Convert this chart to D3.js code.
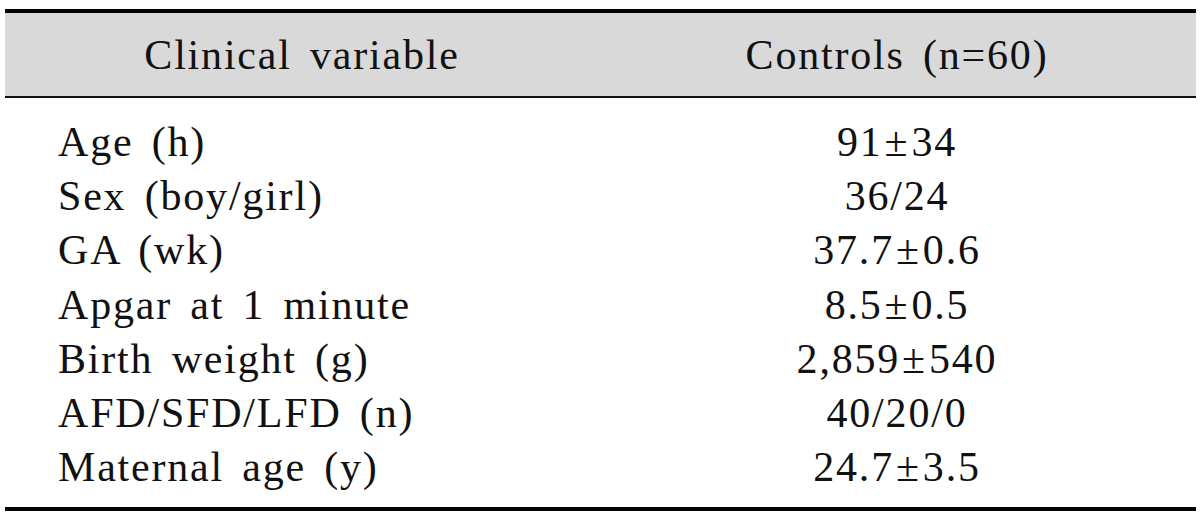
<!DOCTYPE html>
<html>
<head>
  <title></title>
  <script src="https://cdn.jsdelivr.net/npm/d3@7"></script>
  <style type="text/css">
    body {
      margin: 0;
      background-color: white;
    }

    .cell {
      font-family: "Liberation Serif", "DejaVu Serif", serif;
      font-size: 42px;
      fill: #111;
      letter-spacing: 1.8px;
      word-spacing: 6px;
    }

    .head-bg {
      fill: #d9d9d9;
    }
  </style>
</head>
<body>
  <div class="chart"></div>

  <script type="text/javascript">

    var headers = ['Clinical variable', 'Controls (n=60)'];
    var variables = ['Age (h)', 'Sex (boy/girl)', 'GA (wk)', 'Apgar at 1 minute',
      'Birth weight (g)', 'AFD/SFD/LFD (n)', 'Maternal age (y)'];
    var controls = ['91\u00b134', '36/24', '37.7\u00b10.6', '8.5\u00b10.5',
      '2,859\u00b1540', '40/20/0', '24.7\u00b13.5'];

    var width = 1200;
    var height = 517;
    var left = 5, right = 1196;

    var svg = d3.select('.chart').append('svg')
      .attr('width', width).attr('height', height);

    // header band
    svg.append('rect')
      .attr('class', 'head-bg')
      .attr('x', left).attr('y', 13)
      .attr('width', right - left).attr('height', 83);

    svg.append('line')
      .attr('x1', left).attr('x2', right)
      .attr('y1', 11).attr('y2', 11)
      .style('stroke', '#000').style('stroke-width', 4);

    svg.append('line')
      .attr('x1', left).attr('x2', right)
      .attr('y1', 97).attr('y2', 97)
      .style('stroke', '#111').style('stroke-width', 2);

    svg.append('line')
      .attr('x1', left).attr('x2', right)
      .attr('y1', 509).attr('y2', 509)
      .style('stroke', '#000').style('stroke-width', 4);

    // column centres
    var x = d3.scaleOrdinal()
      .domain([0, 1])
      .range([302, 897]);

    svg.selectAll('.head')
      .data(headers).enter().append('text')
        .attr('class', 'cell head')
        .attr('x', function (d, i) { return x(i); })
        .attr('y', 69)
        .style('text-anchor', 'middle')
        .text(function (d) { return d; });

    // row baselines
    var y = d3.scalePoint()
      .domain(variables)
      .range([156, 481]);

    svg.selectAll('.var')
      .data(variables).enter().append('text')
        .attr('class', 'cell var')
        .attr('x', 58)
        .attr('y', function (d) { return y(d); })
        .text(function (d) { return d; });

    // values: put a little air round the plus-minus sign
    var vals = svg.selectAll('.val')
      .data(controls).enter().append('text')
        .attr('class', 'cell val')
        .attr('x', x(1))
        .attr('y', function (d, i) { return y(variables[i]); })
        .style('text-anchor', 'middle');

    vals.each(function (d) {
      var t = d3.select(this);
      var parts = d.split('\u00b1');
      t.append('tspan').text(parts[0]);
      if (parts.length > 1) {
        t.append('tspan').attr('dx', 2).text('\u00b1');
        t.append('tspan').attr('dx', 2).text(parts[1]);
      }
    });

  </script>
</body>
</html>
